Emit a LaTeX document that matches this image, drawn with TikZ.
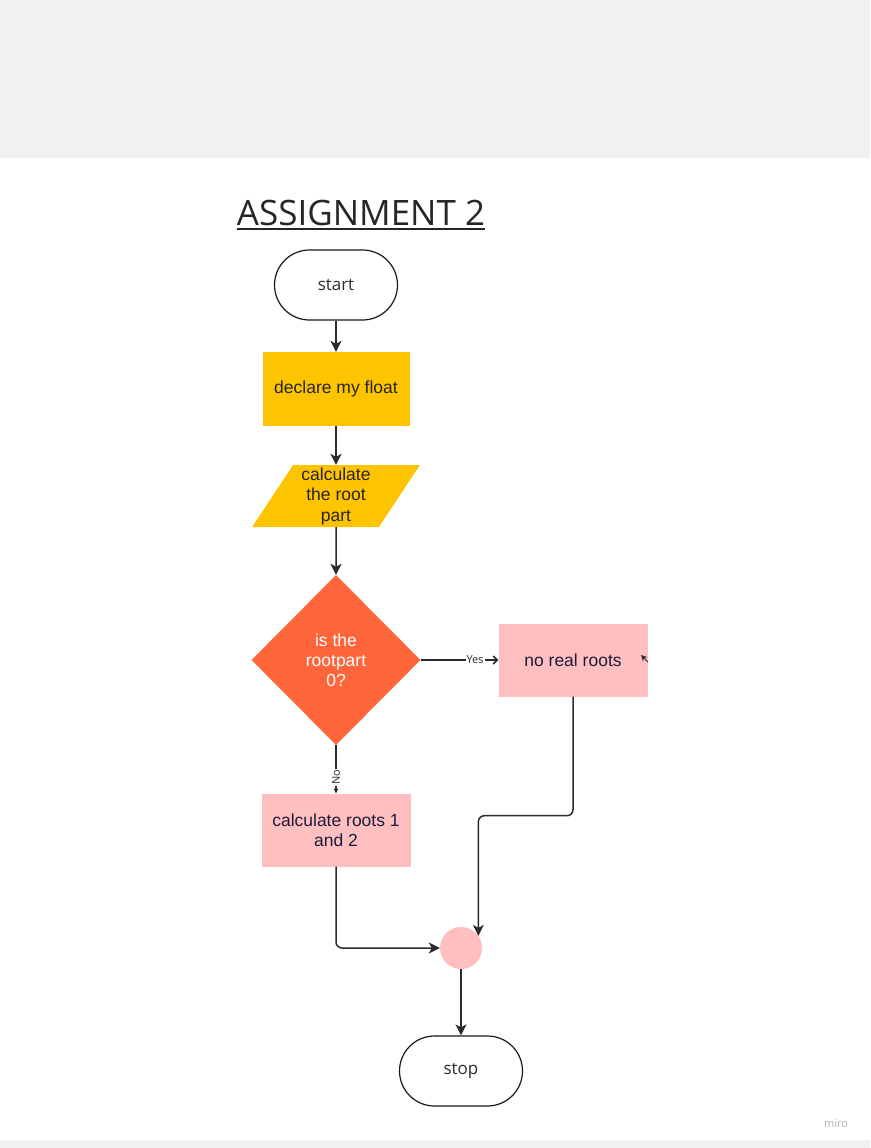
\documentclass[tikz,border=0pt]{standalone}
\usepackage{fontspec}
\setmainfont{Liberation Sans}
\newfontfamily\uifont{Open Sans}
\usetikzlibrary{shapes.geometric,arrows.meta}

\definecolor{boardgrey}{HTML}{F1F1F1}
\definecolor{miroyellow}{HTML}{FFC400}
\definecolor{mirored}{HTML}{FF653B}
\definecolor{miropink}{HTML}{FFBFC0}
\definecolor{inkgrey}{HTML}{2B2B2B}
\definecolor{navyink}{HTML}{1C1C3A}

\begin{document}
\begin{tikzpicture}[x=1pt, y=-1pt,
        terminal/.style={rectangle, rounded corners=35pt, draw=black!90, line width=1.2pt, fill=white,
            minimum width=123pt, minimum height=70pt, text=inkgrey, font=\uifont\fontsize{17}{20}\selectfont},
        process/.style={rectangle, fill=miroyellow, minimum width=147pt, minimum height=74pt,
            align=center, text=black!85, font=\fontsize{17.5}{20.5}\selectfont},
        data/.style={trapezium, trapezium left angle=60, trapezium right angle=120, trapezium stretches=true,
            fill=miroyellow, minimum width=168pt, minimum height=62pt, inner sep=0pt,
            align=center, text=black!85, font=\fontsize{17.5}{20.5}\selectfont},
        decision/.style={diamond, fill=mirored, minimum width=169pt, minimum height=170pt, inner sep=0pt,
            align=center, text=white, font=\fontsize{17.5}{20}\selectfont},
        result/.style={rectangle, fill=miropink, minimum width=149pt, minimum height=73pt,
            align=center, text=navyink, font=\fontsize{17.5}{20.5}\selectfont},
        junction/.style={circle, fill=miropink, minimum size=42pt, inner sep=0pt},
        flow/.style={-{Stealth[length=11pt, width=11pt, inset=3pt]}, draw=inkgrey, line width=1.5pt},
        answer/.style={-{Straight Barb[length=4pt, width=8pt]}, draw=inkgrey, line width=1.5pt},
        tag/.style={fill=white, inner sep=1pt, text=inkgrey, font=\uifont\fontsize{11}{13}\selectfont}
    ]
        \useasboundingbox (0,0) rectangle (870,1148);

        % Board
        \fill[boardgrey] (0,0) rectangle (870,158);
        \fill[boardgrey] (0,1140) rectangle (870,1148);

        % Title
        \node[inner sep=0pt, text=black!85, font=\uifont\fontsize{35}{40}\selectfont, anchor=base]
            (title) at (361,225) {ASSIGNMENT 2};
        \draw[black!85, line width=2.2pt] ([yshift=-4pt]title.base west) -- ([yshift=-4pt]title.base east);

        % Steps
        \node[terminal] (start) at (336,285) {start};
        \node[process] (declare) at (336,389) {declare my float};
        \node[data] (rootpart) at (336,496) {calculate\\the root\\part};
        \node[decision] (check) at (336,660) {is the\\rootpart\\0?};
        \node[result] (noroots) at (573,660) {no real roots};
        \node[result] (roots) at (336,830) {calculate roots 1\\and 2};
        \node[junction] (merge) at (461,948) {};
        \node[terminal] (stop) at (461,1071) {stop};

        % Connectors
        \draw[flow] (start) -- (declare);
        \draw[flow] (declare) -- (rootpart);
        \draw[flow] (rootpart) -- (check);
        \draw[answer] (check.east) -- node[tag, pos=0.7] {Yes} (noroots.west);
        \draw[flow, -{Stealth[length=5pt, width=5pt]}] (check.south) -- node[tag, pos=0.67, rotate=90] {No} (roots.north);
        \draw[flow, rounded corners=6pt] (noroots.south) -- ++(0,119) -| (merge.35);
        \draw[flow, rounded corners=6pt] (roots.south) |- (merge.west);
        \draw[flow] (merge) -- (stop);

        % Stray tip
        \coordinate (stray) at (648,662);
        \draw[-{Stealth[length=6pt, width=6pt]}, draw=inkgrey, line width=1pt] (stray) -- ++(-7,-7);

        \node[text=black!30, font=\uifont\fontsize{11}{13}\selectfont] (logo) at (836,1124) {miro};
    \end{tikzpicture}
\end{document}
